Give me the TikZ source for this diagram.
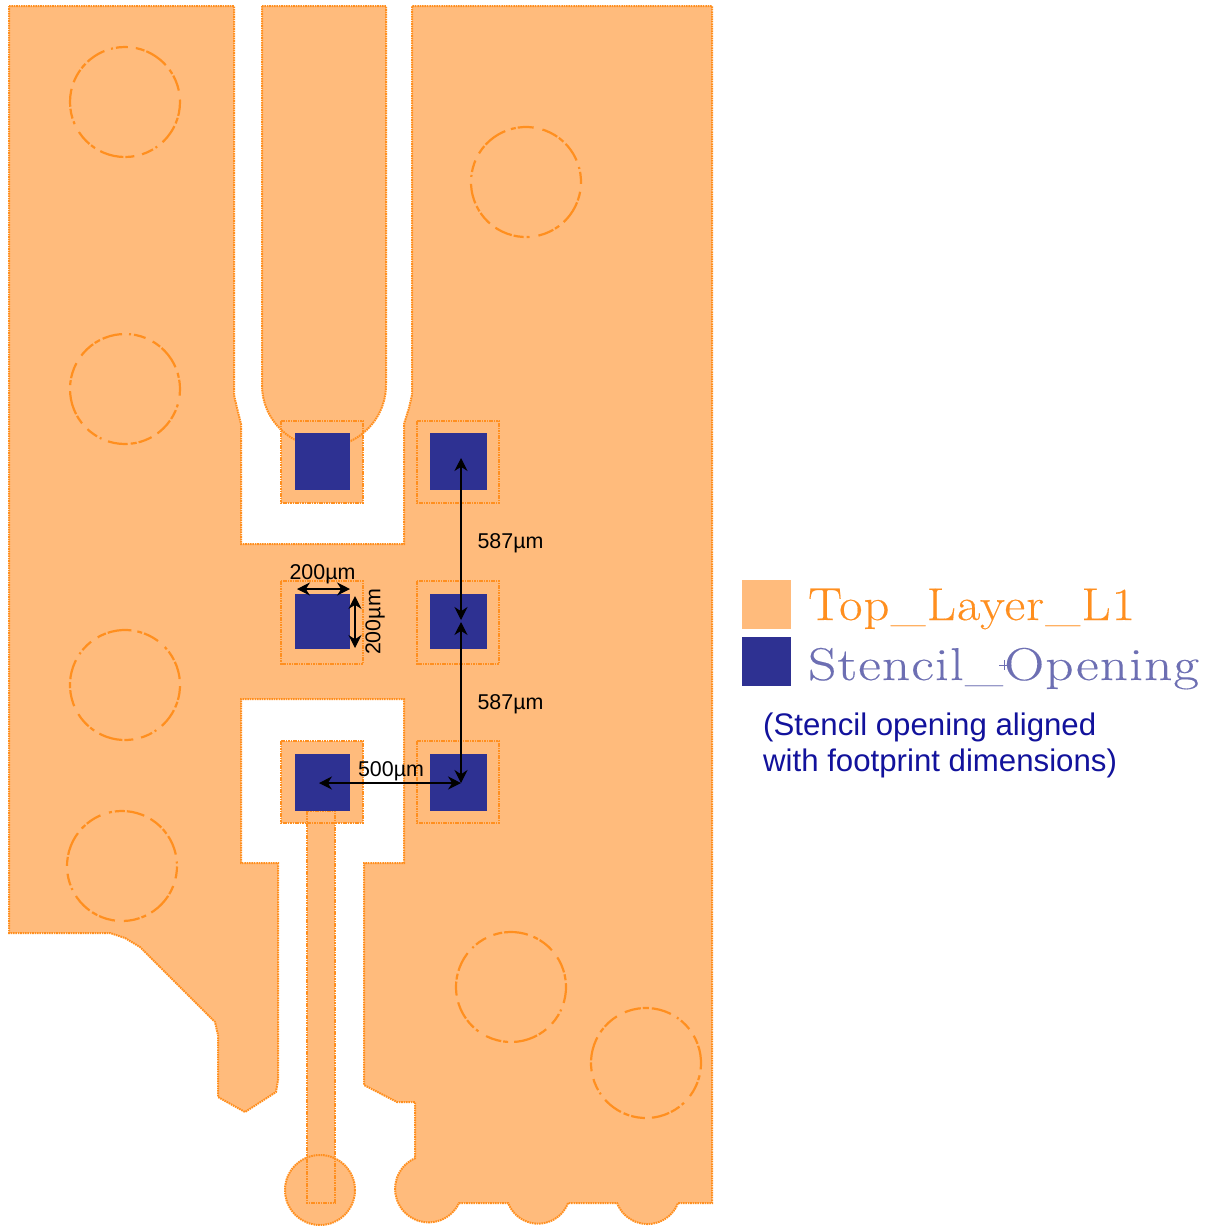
\documentclass[tikz,border=0pt]{standalone}
\usepackage{fontspec}
\newfontfamily\arialf{Liberation Sans}
\newfontfamily\legendtop[FakeStretch=1.1,LetterSpace=2.5,FakeBold=0.3]{Latin Modern Roman}
\newfontfamily\legendsten[FakeStretch=1.2,LetterSpace=2.6,FakeBold=0.3]{Latin Modern Roman}
\usetikzlibrary{arrows.meta}
\definecolor{copper}{HTML}{FFBB7C}
\definecolor{edge}{HTML}{FF8F1F}
\definecolor{stencil}{HTML}{2E3192}
\definecolor{notetext}{HTML}{12129C}
\tikzset{
  x=1pt,y=-1pt,
  copperfill/.style={fill=copper,draw=none},
  copperline/.style={draw=edge,line width=2pt,dash pattern=on 1.6pt off 0.8pt},
  viaring/.style={draw=edge,line width=2.2pt,dash pattern=on 14pt off 2pt on 6pt off 3pt on 20pt off 7pt on 2pt off 3pt on 12pt off 8pt on 9pt off 2pt on 24pt off 6pt on 5pt off 2pt on 16pt off 9pt on 3pt off 3pt on 10pt off 2pt on 18pt off 7pt},
  opening/.style={fill=stencil,draw=none},
  dim/.style={draw=black,line width=1.3pt,{Stealth[length=13pt,width=13pt]}-{Stealth[length=13pt,width=13pt]}},
  dimlabel/.style={font=\arialf\fontsize{21.4}{21.4}\selectfont,text=black,inner sep=0pt},
  legendlabel/.style={inner sep=0pt,anchor=base west},
  notelabel/.style={font=\arialf\fontsize{31.2}{31.2}\selectfont,text=notetext,inner sep=0pt,anchor=base west},
}
\newcommand{\mainoutline}{
  (9,6) -- (234,6) -- (234,395) -- (237,408) -- (241,424) -- (241,544) -- (404,544) -- (404,424)
  -- (409,408) -- (412,395) -- (412,6) -- (712,6) -- (712,1203) -- (678,1203)
  arc[start angle=20.8,end angle=159.2,radius=32.6] -- (568,1203)
  arc[start angle=20.8,end angle=159.2,radius=32] -- (459,1203)
  arc[start angle=25,end angle=246,radius=33.5] -- (415,1102) -- (397,1102) -- (364,1085)
  -- (364,863) -- (404,863) -- (404,699) -- (241,699) -- (241,863) -- (278,863) -- (278,1080)
  -- (276,1092) -- (245,1112) -- (218,1097) -- (218,1035) -- (215,1022) -- (140,947)
  -- (125,938) -- (110,933) -- (9,933) -- cycle
}
\newcommand{\fingeroutline}{
  (262,6) -- (262,385) arc[start angle=180,end angle=0,radius=62] -- (386,6) -- cycle
}
\newcommand{\traceoutline}{(307,811) rectangle (335,1203)}
\newcommand{\padshapes}{
  (281,421) rectangle (363,503)
  (417,421) rectangle (499,503)
  (281,581) rectangle (363,664)
  (417,581) rectangle (499,664)
  (281,741) rectangle (363,823)
  (417,741) rectangle (499,823)
}
\begin{document}
\begin{tikzpicture}
\useasboundingbox (0,0) rectangle (1219,1232);
\fill[white] (0,0) rectangle (1219,1232);
% copper fills
\path[copperfill] \mainoutline;
\path[copperfill] \fingeroutline;
\path[copperfill] \traceoutline;
\path[copperfill] (320,1190) circle[radius=35];
\path[copperfill] \padshapes;
% copper outlines
\path[copperline] \mainoutline;
\path[copperline] \fingeroutline;
\path[copperline] \traceoutline;
\path[copperline] (320,1190) circle[radius=35];
\path[copperline] \padshapes;
% vias
\path[viaring] (125,102) circle[radius=55];
\path[viaring,rotate around={70:(526,182)}] (526,182) circle[radius=55];
\path[viaring,rotate around={140:(125,389)}] (125,389) circle[radius=55];
\path[viaring,rotate around={200:(125,685)}] (125,685) circle[radius=55];
\path[viaring,rotate around={260:(122,866)}] (122,866) circle[radius=55];
\path[viaring,rotate around={30:(511,987)}] (511,987) circle[radius=55];
\path[viaring,rotate around={110:(646,1063)}] (646,1063) circle[radius=55];
% stencil openings
\path[opening] (295,433) rectangle (350,490);
\path[opening] (430,433) rectangle (487,490);
\path[opening] (295,594) rectangle (350,649);
\path[opening] (430,594) rectangle (487,649);
\path[opening] (295,754) rectangle (350,811);
\path[opening] (430,754) rectangle (487,811);
% dimension anchors
\coordinate (vtop) at (461,458);
\coordinate (vmidA) at (461,620);
\coordinate (vmidB) at (461,622);
\coordinate (vbot) at (461,783);
\coordinate (hleft) at (319,783);
\coordinate (hright) at (461,783);
\coordinate (wleft) at (297,589);
\coordinate (wright) at (350,589);
\coordinate (htop) at (355,596);
\coordinate (hbot) at (355,648);
\draw[dim] (vtop) -- (vmidA);
\draw[dim] (vmidB) -- (vbot);
\draw[dim] (hleft) -- (hright);
\draw[dim] (wleft) -- (wright);
\draw[dim] (htop) -- (hbot);
\node[dimlabel] (l587a) at (510.5,543) {587µm};
\node[dimlabel] (l587b) at (510.5,704) {587µm};
\node[dimlabel] (l200h) at (322.5,574) {200µm};
\node[dimlabel,rotate=90] (l200v) at (375,622) {200µm};
\node[dimlabel] (l500) at (391,771) {500µm};
% legend
\path[copperfill] (742,580) rectangle (791,629);
\path[opening] (742,637) rectangle (791,686);
\node[legendlabel,text=edge,font=\legendtop\fontsize{46}{46}\selectfont] (ltop) at (808,620) {Top\_Layer\_L1};
\node[legendlabel,text=stencil!70,font=\legendsten\fontsize{46}{46}\selectfont] (lsten) at (808,680) {Stencil\_Opening};
\draw[stencil!70,line width=0.8pt] (999,665) -- (1010,665) (1004.5,660) -- (1004.5,670);
\node[notelabel] (note1) at (763,735) {(Stencil opening aligned};
\node[notelabel] (note2) at (763,771) {with footprint dimensions)};
\end{tikzpicture}
\end{document}
